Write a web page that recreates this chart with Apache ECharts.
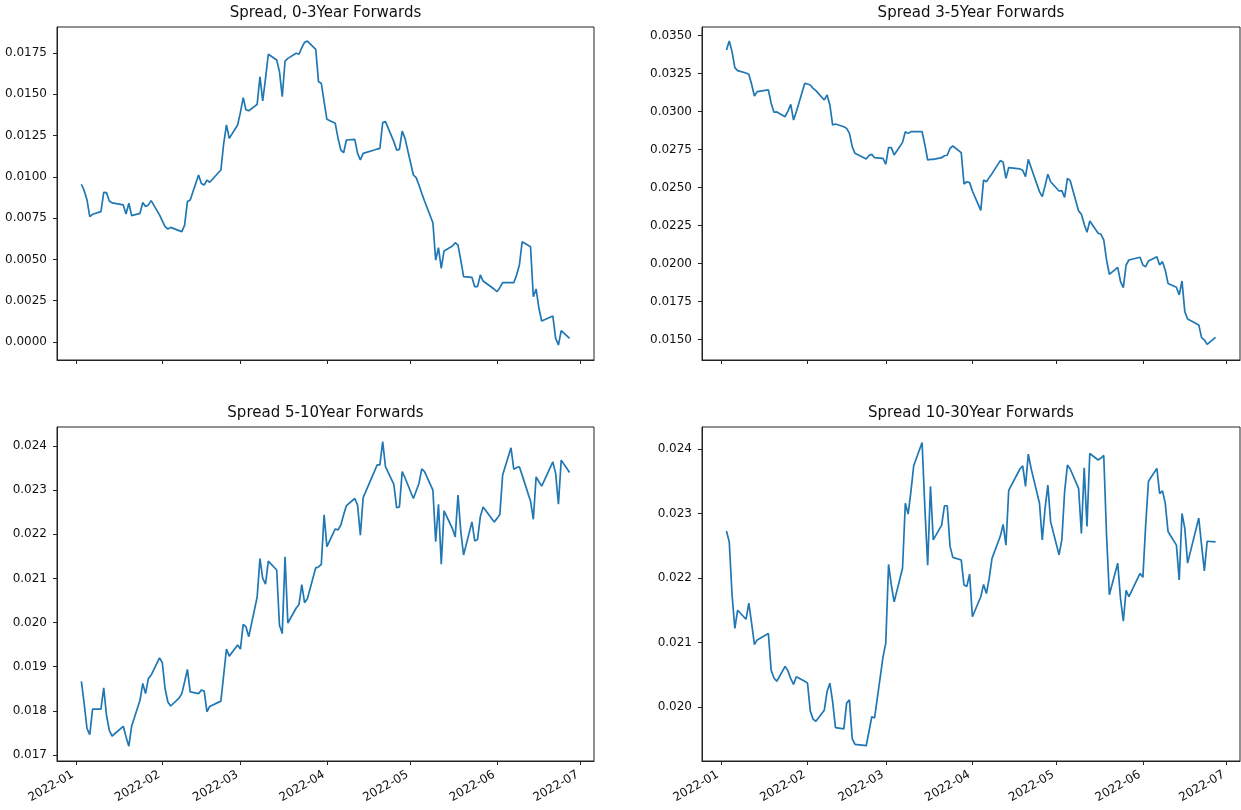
<!DOCTYPE html>
<html>
<head>
<meta charset="utf-8">
<title>Forward spreads</title>
<script src="https://cdn.jsdelivr.net/npm/echarts@6/dist/echarts.min.js"></script>
<style>
  html, body { margin: 0; padding: 0; background: #fff; }
  #chart { width: 1241px; height: 810px; }
</style>
</head>
<body>
<div id="chart"></div>
<script>
// Trading days: weekdays from 2022-01-03 to 2022-06-27, market holidays skipped
const firstDay = '2022-01-03';
const lastDay = '2022-06-27';
const holidays = ['2022-01-17', '2022-02-21', '2022-04-15', '2022-05-30', '2022-06-20'];

const titles = [
  'Spread, 0-3Year Forwards',
  'Spread 3-5Year Forwards',
  'Spread 5-10Year Forwards',
  'Spread 10-30Year Forwards'
];

// Spread values, one per trading day
const spread0to3 = [
  0.00955, 0.00916, 0.0086, 0.00759, 0.00773, 0.00789, 0.00906, 0.00904, 0.00854, 0.00842,
  0.0083, 0.00775, 0.0084, 0.00765, 0.00779, 0.00844, 0.0082, 0.0083, 0.00856, 0.0077,
  0.00733, 0.00698, 0.00684, 0.00694, 0.00674, 0.00668, 0.00708, 0.0085, 0.0086, 0.01011,
  0.0096, 0.0095, 0.0098, 0.00967, 0.01041, 0.0120, 0.01314, 0.01233, 0.01314,
  0.0139, 0.01479, 0.01405, 0.014, 0.01439, 0.01606, 0.01459, 0.01596, 0.01742, 0.01707,
  0.01637, 0.01485, 0.01701, 0.01717, 0.01748, 0.01742, 0.01782, 0.01814, 0.01822, 0.01772,
  0.01576, 0.01566, 0.01455,
  0.01348, 0.01324, 0.01233, 0.01162, 0.01146, 0.01223, 0.01227, 0.01142, 0.01102, 0.01142,
  0.01162, 0.01168, 0.01172, 0.01328, 0.01334, 0.01213, 0.01162, 0.01166, 0.01277, 0.01233,
  0.01011, 0.00995, 0.0095, 0.009, 0.00854, 0.00722, 0.00496, 0.00571, 0.00446, 0.00551,
  0.00581, 0.00601, 0.00587, 0.00496, 0.00396, 0.00391, 0.00335, 0.00335, 0.00406, 0.00369,
  0.00319,
  0.00305, 0.00329, 0.00359, 0.00359, 0.00359, 0.00406, 0.00466, 0.00607, 0.00577, 0.00274,
  0.00321, 0.00204, 0.00127, 0.00157, 0.00022, -0.00018, 0.00069, 0.00022
];

const spread3to5 = [
  0.03406, 0.03465, 0.03395, 0.0329, 0.0327, 0.03254, 0.03246, 0.0318, 0.03103, 0.03132,
  0.03143, 0.03055, 0.02996, 0.02998, 0.02967, 0.03004, 0.03048, 0.02945, 0.03, 0.03186,
  0.03182, 0.03175, 0.03153, 0.03138, 0.03077, 0.0311, 0.03044, 0.02912, 0.02919, 0.02901,
  0.0289, 0.02857, 0.0277, 0.02726, 0.02689, 0.02711, 0.02719, 0.02697, 0.02693,
  0.02654, 0.02763, 0.02763, 0.02715, 0.02798, 0.02868, 0.02857, 0.02868, 0.02868, 0.02868,
  0.02781, 0.02682, 0.02686, 0.02686, 0.02697, 0.0271, 0.02713, 0.02759, 0.02774, 0.0273,
  0.02524, 0.02539, 0.02533,
  0.02478, 0.0235, 0.0255, 0.02539, 0.02566, 0.02592, 0.02678, 0.02667, 0.02561, 0.02632,
  0.02623, 0.02614, 0.02572, 0.02686, 0.02632, 0.02474, 0.02441, 0.02513, 0.02588, 0.02539,
  0.02478, 0.0248, 0.02436, 0.02561, 0.02546, 0.02347, 0.02325, 0.02259, 0.02206, 0.02281,
  0.022, 0.02193, 0.02156, 0.02024, 0.0193, 0.01976, 0.01882, 0.01842, 0.01991, 0.02024,
  0.02042,
  0.01991, 0.0198, 0.02018, 0.02046, 0.01991, 0.02013, 0.01958, 0.0187, 0.01844, 0.01794,
  0.01886, 0.01684, 0.01636, 0.01597, 0.01513, 0.01498, 0.01469, 0.01515
];

const spread5to10 = [
  0.01867, 0.01816, 0.0176, 0.01746, 0.01804, 0.01804, 0.01852, 0.0179, 0.01756, 0.01743,
  0.01765, 0.01741, 0.0172, 0.01765, 0.01824, 0.01862, 0.01839, 0.01873, 0.01881, 0.0192,
  0.01909, 0.0185, 0.0182, 0.01811, 0.01829, 0.01839, 0.01866, 0.01894, 0.01843, 0.01839,
  0.01847, 0.01845, 0.01798, 0.0181, 0.01822, 0.01881, 0.0194, 0.01924, 0.01949,
  0.0194, 0.01996, 0.0199, 0.01968, 0.02058, 0.02145, 0.021, 0.02087, 0.02139, 0.02119,
  0.01994, 0.01975, 0.02149, 0.01999, 0.02033, 0.02041, 0.02086, 0.02045, 0.02054, 0.02124,
  0.02126, 0.02132, 0.02244,
  0.02172, 0.02212, 0.0221, 0.02221, 0.02244, 0.02265, 0.02281, 0.02266, 0.02198, 0.02283,
  0.02342, 0.02357, 0.02357, 0.0241, 0.02353, 0.02313, 0.0226, 0.02262, 0.02342, 0.02328,
  0.02281, 0.02298, 0.02315, 0.02348, 0.02342, 0.023, 0.02183, 0.02268, 0.02132, 0.02253,
  0.02213, 0.02194, 0.02289, 0.02206, 0.02153, 0.02228, 0.02185, 0.02188, 0.0224, 0.02262,
  0.02228,
  0.02236, 0.02245, 0.02334, 0.02396, 0.02347, 0.02351, 0.02353, 0.02334, 0.02275, 0.02234,
  0.0233, 0.02319, 0.02309, 0.02364, 0.02338, 0.02268, 0.02368, 0.0234
];

const spread10to30 = [
  0.02273, 0.02256, 0.02174, 0.02122, 0.0215, 0.02136, 0.02161, 0.0213, 0.02097, 0.02104,
  0.02114, 0.02057, 0.02045, 0.0204, 0.02063, 0.02056, 0.02044, 0.02035, 0.02047, 0.0204,
  0.02037, 0.01994, 0.01981, 0.01978, 0.01995, 0.02024, 0.02037, 0.02008, 0.01968, 0.01966,
  0.02006, 0.02011, 0.01951, 0.01942, 0.0194, 0.01962, 0.01985, 0.01983, 0.02077,
  0.02099, 0.02221, 0.02189, 0.02163, 0.02215, 0.02316, 0.02299, 0.02334, 0.02374, 0.0241,
  0.02308, 0.0222, 0.02342, 0.02259, 0.02282, 0.02312, 0.02312, 0.02249, 0.02232, 0.02228,
  0.02189, 0.02187, 0.02206,
  0.0214, 0.02171, 0.0219, 0.02176, 0.02199, 0.0223, 0.02265, 0.02283, 0.02251, 0.02336,
  0.02369, 0.02374, 0.02342, 0.02392, 0.0237, 0.02316, 0.02259, 0.02308, 0.02344, 0.02287,
  0.02236, 0.02259, 0.02334, 0.02375, 0.02369, 0.02339, 0.02269, 0.02371, 0.0228, 0.02393,
  0.02383, 0.02386, 0.0239, 0.02267, 0.02174, 0.02223, 0.02168, 0.02133, 0.02181, 0.02171,
  0.02207,
  0.02201, 0.02282, 0.0235, 0.0237, 0.02331, 0.02335, 0.02316, 0.02272, 0.02251, 0.02197,
  0.023, 0.02277, 0.02223, 0.02293, 0.02251, 0.02211, 0.02257, 0.02256
];

// Tick positions
const monthTicks = ['2022-01-01', '2022-02-01', '2022-03-01', '2022-04-01', '2022-05-01', '2022-06-01', '2022-07-01'];
const yTicks0to3 = [0, 0.0025, 0.005, 0.0075, 0.01, 0.0125, 0.015, 0.0175];
const yTicks3to5 = [0.015, 0.0175, 0.02, 0.0225, 0.025, 0.0275, 0.03, 0.0325, 0.035];
const yTicks5to10 = [0.017, 0.018, 0.019, 0.02, 0.021, 0.022, 0.023, 0.024];
const yTicks10to30 = [0.02, 0.021, 0.022, 0.023, 0.024];

function parseDay(s) {
  const p = s.split('-').map(Number);
  return Date.UTC(p[0], p[1] - 1, p[2]);
}
function tradingDays(from, to, skip) {
  const DAY = 86400000;
  const out = [];
  const skipSet = new Set(skip.map(parseDay));
  const end = parseDay(to);
  for (let t = parseDay(from); t <= end; t += DAY) {
    const wd = new Date(t).getUTCDay();
    if (wd !== 0 && wd !== 6 && !skipSet.has(t)) out.push(t);
  }
  return out;
}

const days = tradingDays(firstDay, lastDay, holidays);
const span = days[days.length - 1] - days[0];
const xMin = days[0] - span * 0.05;
const xMax = days[days.length - 1] + span * 0.05;
const monthTickTimes = monthTicks.map(parseDay);

const panels = [
  { values: spread0to3,   ticks: yTicks0to3,   digits: 4, yMin: -0.00109, yMax: 0.01907,  left: 57,  top: 27,  width: 537, height: 333, labels: false },
  { values: spread3to5,   ticks: yTicks3to5,   digits: 4, yMin: 0.01366,  yMax: 0.03557,  left: 702, top: 27,  width: 538, height: 333, labels: false },
  { values: spread5to10,  ticks: yTicks5to10,  digits: 3, yMin: 0.016864, yMax: 0.02443,  left: 57,  top: 427, width: 537, height: 334, labels: true },
  { values: spread10to30, ticks: yTicks10to30, digits: 3, yMin: 0.019163, yMax: 0.024341, left: 702, top: 427, width: 538, height: 334, labels: true }
];

const FONT = 'DejaVu Sans';
const INK = '#222';

function monthLabel(v) {
  const d = new Date(v);
  const m = d.getUTCMonth() + 1;
  return d.getUTCFullYear() + '-' + (m < 10 ? '0' + m : m);
}

const option = {
  animation: false,
  backgroundColor: '#fff',
  textStyle: { fontFamily: FONT },
  grid: panels.map(p => ({
    left: p.left, top: p.top, width: p.width, height: p.height,
    show: true, borderColor: INK, borderWidth: 1, backgroundColor: 'transparent',
    containLabel: false
  })),
  xAxis: panels.map((p, i) => ({
    type: 'value', gridIndex: i, min: xMin, max: xMax,
    splitLine: { show: false },
    axisLine: { show: true, onZero: false, lineStyle: { color: INK, width: 1 } },
    axisTick: { show: true, customValues: monthTickTimes, length: 4, lineStyle: { color: INK } },
    axisLabel: {
      show: p.labels, customValues: monthTickTimes, rotate: 30, margin: 18,
      align: 'right', verticalAlign: 'bottom',
      fontFamily: FONT, fontSize: 12, color: '#111', formatter: monthLabel
    }
  })),
  yAxis: panels.map((p, i) => ({
    type: 'value', gridIndex: i, min: p.yMin, max: p.yMax,
    splitLine: { show: false },
    axisLine: { show: true, onZero: false, lineStyle: { color: INK, width: 1 } },
    axisTick: { show: true, customValues: p.ticks, length: 4, lineStyle: { color: INK } },
    axisLabel: {
      customValues: p.ticks, margin: 10, fontFamily: FONT, fontSize: 12, color: '#111',
      formatter: v => Number(v).toFixed(p.digits)
    }
  })),
  graphic: panels.map((p, i) => ({
    type: 'text',
    x: p.left + p.width / 2,
    y: p.top - 14,
    style: {
      text: titles[i], fill: '#111', font: '15px "' + FONT + '"',
      textAlign: 'center', textVerticalAlign: 'middle'
    }
  })),
  series: panels.map((p, i) => ({
    type: 'line', xAxisIndex: i, yAxisIndex: i,
    showSymbol: false, symbol: 'none',
    lineStyle: { color: '#1f77b4', width: 1.7 },
    data: days.map((t, k) => [t, p.values[k]])
  }))
};

const chart = echarts.init(document.getElementById('chart'));
chart.setOption(option);
</script>
</body>
</html>
